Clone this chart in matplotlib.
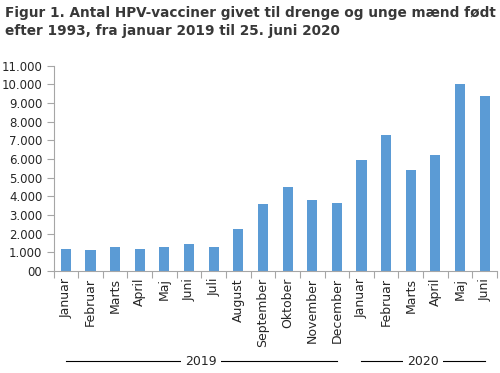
import matplotlib.pyplot as plt
import matplotlib.transforms as mtransforms
import numpy as np

months = ["Januar", "Februar", "Marts", "April", "Maj", "Juni", "Juli", "August",
          "September", "Oktober", "November", "December",
          "Januar", "Februar", "Marts", "April", "Maj", "Juni"]
vaccines = [1200, 1150, 1300, 1200, 1300, 1460, 1300, 2260,
            3600, 4510, 3810, 3650,
            5950, 7290, 5420, 6220, 10020, 9380]
years = ["2019", "2020"]
year_spans = [(0, 11), (12, 17)]
yticks = list(range(0, 11001, 1000))
ytick_labels = ["00"] + [f"{v // 1000}.000" for v in yticks[1:]]

bar_color = "#5B9BD5"
axis_gray = "#A6A6A6"
text_color = "#262626"

fig = plt.figure(figsize=(5, 3.73), dpi=100)
ax = fig.add_axes([0.107, 0.2735, 0.887, 0.5505])

x = np.arange(len(months))
ax.bar(x, vaccines, width=0.41, color=bar_color, zorder=2)

ax.set_xlim(-0.5, len(months) - 0.5)
ax.set_ylim(0, 11000)
ax.set_yticks(yticks)
ax.set_yticklabels(ytick_labels, fontsize=8.5, color=text_color)

ax.set_xticks(x)
ax.set_xticklabels(months, rotation=90, fontsize=9, color=text_color)
ax.tick_params(axis="x", length=0, pad=5)
ax.set_xticks(np.arange(-0.5, len(months), 1), minor=True)
ax.tick_params(axis="x", which="minor", length=5, color=axis_gray, width=0.8)
ax.tick_params(axis="y", length=5, color=axis_gray, width=0.8, pad=3)

for side in ["top", "right"]:
    ax.spines[side].set_visible(False)
for side in ["left", "bottom"]:
    ax.spines[side].set_color(axis_gray)
    ax.spines[side].set_linewidth(0.8)

# year grouping labels under the month names
trans = mtransforms.blended_transform_factory(ax.transData, ax.transAxes)
for year, (a, b) in zip(years, year_spans):
    ax.plot([a, b], [-0.44, -0.44], color="black", lw=0.8,
            transform=trans, clip_on=False)
    ax.text((a + b) / 2, -0.44, year, transform=trans, ha="center", va="center",
            fontsize=9, color=text_color,
            bbox=dict(facecolor="white", edgecolor="none", pad=3))

fig.text(0.01, 0.985,
         "Figur 1. Antal HPV-vacciner givet til drenge og unge mænd født\n"
         "efter 1993, fra januar 2019 til 25. juni 2020",
         ha="left", va="top", fontsize=9.8, fontweight="bold", color="#383838",
         linespacing=1.4)

fig.savefig("out.png", dpi=100)
